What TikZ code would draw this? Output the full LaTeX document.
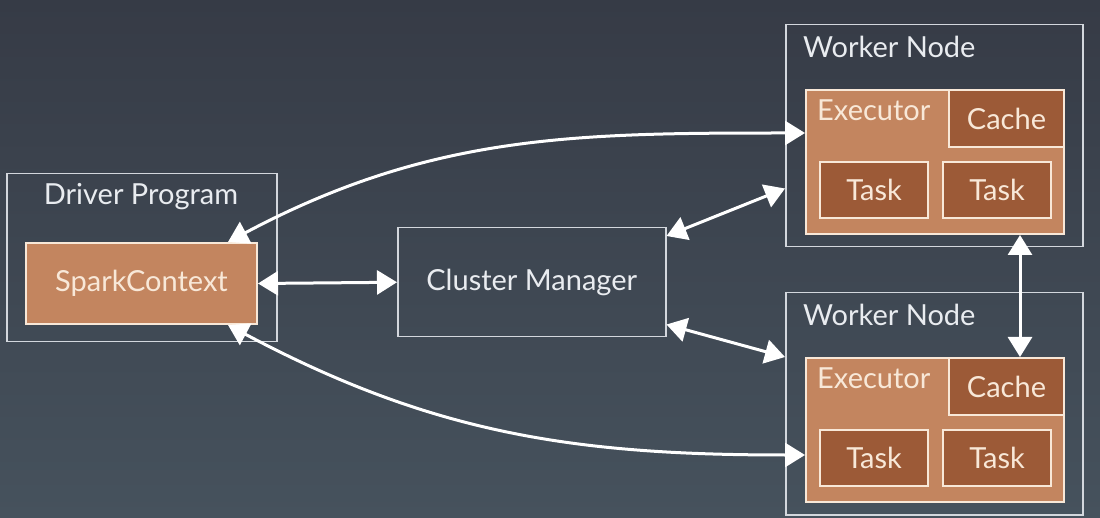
\documentclass[tikz,border=0pt]{standalone}
\usepackage{fontspec}
\setmainfont{Lato}
\usetikzlibrary{arrows.meta}
\definecolor{bgtop}{HTML}{363B46}
\definecolor{bgbot}{HTML}{46525D}
\definecolor{frame}{HTML}{D3D7DD}
\definecolor{execfill}{HTML}{C3855F}
\definecolor{partfill}{HTML}{9C5A37}
\definecolor{cream}{HTML}{F8E8D8}
\definecolor{labeltext}{HTML}{E9ECF0}
\tikzset{
    box/.style={draw=frame, line width=1.5pt, anchor=north west, inner sep=0pt},
    execbox/.style={fill=execfill, draw=cream, line width=2pt, anchor=north west, inner sep=0pt},
    partbox/.style={fill=partfill, draw=cream, line width=2pt, anchor=north west, inner sep=0pt, text=cream},
    lbl/.style={text=labeltext, inner sep=0pt},
    link/.style={white, line width=3pt, {Triangle[length=20pt,width=24pt]}-{Triangle[length=20pt,width=24pt]}}
}
\begin{document}
\begin{tikzpicture}[x=1pt, y=-1pt, font=\fontsize{29}{32}\selectfont]
        \shade[top color=bgtop, bottom color=bgbot] (0,0) rectangle (1100,518);
        \useasboundingbox (0,0) rectangle (1100,518);
        % driver side
        \node[box, minimum width=270pt, minimum height=168pt] (driver) at (6,173) {};
        \node[lbl] (drivername) at (141,197) {Driver Program};
        \node[execbox, minimum width=231pt, minimum height=81pt, text=cream] (sc) at (25,242) {SparkContext};
        \node[box, minimum width=268pt, minimum height=109pt, text=labeltext] (cm) at (397,227) {Cluster Manager};
        % two worker nodes
        \foreach \n/\y in {1/24, 2/292} {
            \node[box, minimum width=297pt, minimum height=222pt] (wn\n) at (785,\y) {};
            \node[lbl, anchor=west] (wnname\n) at (803,\y+23) {Worker Node};
            \node[execbox, minimum width=258pt, minimum height=144pt] (ex\n) at (805,\y+65) {};
            \node[partbox, minimum width=115pt, minimum height=57pt] (ca\n) at (948,\y+65) {Cache};
            \node[lbl, anchor=west, text=cream] (exname\n) at (817,\y+86) {Executor};
            \node[partbox, minimum width=108pt, minimum height=56pt] (ta\n) at (819,\y+137) {Task};
            \node[partbox, minimum width=108pt, minimum height=56pt] (tb\n) at (942,\y+137) {Task};
        }
        \draw[link] (sc.east) -- (cm.west);
        \draw[link] ([yshift=-9pt]cm.north east) -- ([yshift=59pt]wn1.south west);
        \draw[link] ([yshift=13pt]cm.south east) -- ([yshift=-65pt]wn2.north west);
        \draw[link] ([xshift=-30pt]sc.north east) to[out=28, in=180] ([yshift=-44pt]ex1.north west);
        \draw[link] ([xshift=-30pt]sc.south east) to[out=-28, in=180] ([yshift=48pt]ex2.south west);
        \draw[link] ([xshift=-45pt]ex1.south east) -- ([xshift=-45pt]ca2.north east);
    \end{tikzpicture}
\end{document}
